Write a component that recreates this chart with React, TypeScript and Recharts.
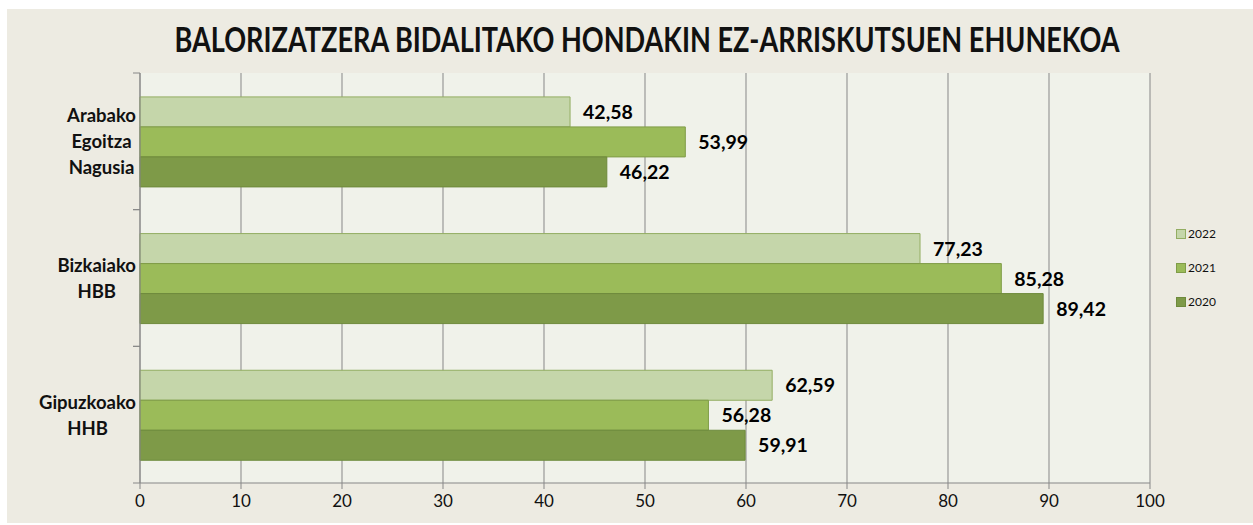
import { BarChart, Bar, XAxis, YAxis, CartesianGrid, LabelList } from 'recharts';

const CATEGORIES = [['Arabako', 'Egoitza', 'Nagusia'], ['Bizkaiako', 'HBB'], ['Gipuzkoako', 'HHB']];
const V2022 = [42.58, 77.23, 62.59];
const V2021 = [53.99, 85.28, 56.28];
const V2020 = [46.22, 89.42, 59.91];
const X_TICKS = [0, 10, 20, 30, 40, 50, 60, 70, 80, 90, 100];

const SERIES = [
  { key: 'y2022', name: '2022', values: V2022, fill: '#C5D6AA', stroke: '#93AD62' },
  { key: 'y2021', name: '2021', values: V2021, fill: '#9BBB59', stroke: '#7F9C47' },
  { key: 'y2020', name: '2020', values: V2020, fill: '#7E9A48', stroke: '#6E8A3C' },
];

const data = CATEGORIES.map((lines, i) => {
  const row: Record<string, unknown> = { name: lines.join(' '), lines };
  SERIES.forEach(s => { row[s.key] = s.values[i]; });
  return row;
});

const W = 1253;
const H = 525;
const M = { top: 73, right: 103, bottom: 8, left: 10 };
const Y_W = 130;
const X_H = 34;
const BAND = (H - M.top - M.bottom - X_H) / CATEGORIES.length;
const AXIS = '#878787';

const fmt = (v: number) => v.toFixed(2).replace('.', ',');

function CatTick({ x, y, payload }: any) {
  const lines = CATEGORIES[payload.index] ?? [];
  const axisX = M.left + Y_W;
  return (
    <g>
      <line x1={axisX - 7} x2={axisX} y1={y - BAND / 2} y2={y - BAND / 2} stroke={AXIS} />
      <line x1={axisX - 7} x2={axisX} y1={y + BAND / 2} y2={y + BAND / 2} stroke={AXIS} />
      <foreignObject x={0} y={y - 60} width={x + 4} height={120}>
        <div style={{ height: 120, display: 'flex', justifyContent: 'flex-end', alignItems: 'center' }}>
          <div style={{ textAlign: 'center', fontFamily: 'Lato', fontWeight: 700, fontSize: 18.5, lineHeight: '26px', color: '#111' }}>
            {lines.map(l => <div key={l}>{l}</div>)}
          </div>
        </div>
      </foreignObject>
    </g>
  );
}

export default function App() {
  return (
    <div style={{ position: 'absolute', left: 0, top: 0, width: W, height: H, background: '#fff' }}>
      <div style={{ position: 'absolute', left: 7, top: 9, right: 0, bottom: 2, background: '#EDEBE2' }} />
      <svg style={{ position: 'absolute', left: 0, top: 0 }} width={W} height={72}>
        <text x={647} y={52} textAnchor="middle" textLength={945} lengthAdjust="spacingAndGlyphs"
          style={{ fontFamily: 'Lato', fontWeight: 700, fontSize: 34, fill: '#111' }}>
          BALORIZATZERA BIDALITAKO HONDAKIN EZ-ARRISKUTSUEN EHUNEKOA
        </text>
      </svg>
      <div style={{ position: 'absolute', left: 0, top: 0 }}>
        <BarChart width={W} height={H} data={data} layout="vertical" margin={M}
          barCategoryGap="17.5%" barGap={0}>
          <CartesianGrid horizontal={false} fill="#F0F2EA" stroke={AXIS} strokeWidth={1} />
          <XAxis type="number" domain={[0, 100]} ticks={X_TICKS} height={X_H}
            axisLine={{ stroke: AXIS }} tickLine={{ stroke: AXIS }} tickSize={6} tickMargin={6}
            tick={{ fill: '#111', fontFamily: 'Lato', fontSize: 17 }} />
          <YAxis type="category" dataKey="name" width={Y_W} axisLine={{ stroke: AXIS }}
            tickLine={false} tick={<CatTick />} interval={0} />
          {SERIES.map(s => (
            <Bar key={s.key} dataKey={s.key} name={s.name} fill={s.fill} stroke={s.stroke}
              strokeWidth={1} isAnimationActive={false}>
              <LabelList dataKey={s.key} position="right" offset={13} formatter={(v: any) => fmt(Number(v))}
                style={{ fill: '#000', fontFamily: 'Lato', fontWeight: 700, fontSize: 19.5 }} />
            </Bar>
          ))}
        </BarChart>
      </div>
      <div style={{ position: 'absolute', left: 1176, top: 217 }}>
        {SERIES.map(s => (
          <div key={s.key} style={{ display: 'flex', alignItems: 'center', height: 34 }}>
            <span style={{ display: 'inline-block', width: 8, height: 8, background: s.fill, border: `1px solid ${s.stroke}`, marginRight: 2 }} />
            <span style={{ fontFamily: 'Lato', fontSize: 12, color: '#111', lineHeight: '14px' }}>{s.name}</span>
          </div>
        ))}
      </div>
    </div>
  );
}
